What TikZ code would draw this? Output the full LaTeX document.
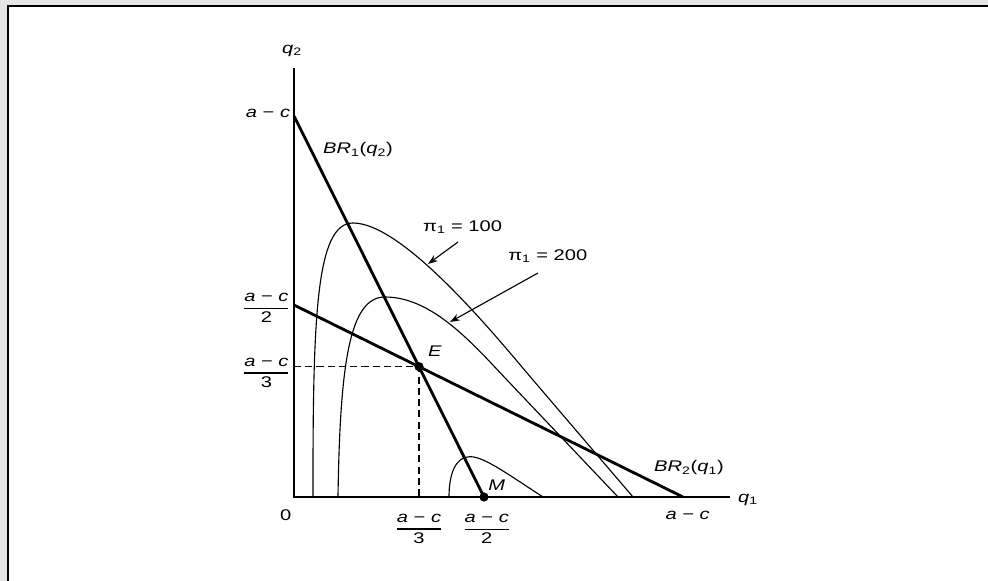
\documentclass[tikz,border=0pt]{standalone}
\usepackage{amsmath}
\usepackage{fontspec}
\setmainfont{Liberation Sans}[FakeStretch=1.3]
\usetikzlibrary{arrows.meta}
\definecolor{fondgris}{HTML}{E5E5E5}
\newcommand{\ac}{\textit{a} − \textit{c}}
\newcommand{\fracac}[1]{\(\genfrac{}{}{0.8pt}{0}{\mbox{\ac}}{\mbox{#1}}\)}

\begin{document}
\begin{tikzpicture}[
    font=\fontsize{11}{13}\selectfont,
    axe/.style={draw=black, line width=1.1pt},
    reponse/.style={draw=black, line width=2pt},
    iso/.style={draw=black, line width=0.8pt},
    guide/.style={draw=black, line width=0.8pt, dash pattern=on 5pt off 3pt},
    fleche/.style={-{Stealth[length=7pt,width=5pt]}, draw=black, line width=0.8pt},
    point/.style={circle, fill=black, inner sep=0pt, minimum size=0.23cm},
    etiq/.style={inner sep=1pt}
  ]
    \useasboundingbox (-7.35,-2.1) rectangle (17.35,12.425);
    % fond et cadre
    \fill[fondgris] (-7.35,-2.1) rectangle (17.35,12.425);
    \fill[white] (-7.15,-2.1) rectangle (17.35,12.275);
    \draw[line width=1.8pt] (-7.15,-2.1) -- (-7.15,12.275) -- (17.35,12.275);

    \coordinate (O)    at (0,0);
    \coordinate (ytop) at (0,10.725);
    \coordinate (xend) at (10.9,0);
    \coordinate (A1)   at (0,9.525);
    \coordinate (A2)   at (0,4.8);
    \coordinate (M)    at (4.75,0);
    \coordinate (B2)   at (9.725,0);
    \coordinate (E)    at (intersection of A1--M and A2--B2);

    % courbes d'isoprofit
    \draw[iso] (0.475,0) .. controls (0.47,4.5) and (0.55,6.85) .. (1.475,6.85)
      .. controls (2.775,6.85) and (5.195,3.837) .. (5.975,2.925) -- (8.475,0);
    \draw[iso] (1.1,0) .. controls (1.15,3.4) and (1.4,5.0) .. (2.275,5.0)
      .. controls (3.475,5.0) and (4.5,3.795) .. (5.325,2.925) -- (8.1,0);
    \draw[iso] (3.875,0) .. controls (3.875,0.6) and (4.05,1.008) .. (4.4,1.008)
      .. controls (4.75,1.008) and (5.3,0.6) .. (6.225,0);

    \draw[axe] (ytop) -- (O) -- (xend);
    \draw[guide] (E -| O) -- (E) -- (E |- O);
    \draw[reponse] (A1) -- (M);
    \draw[reponse] (A2) -- (B2);

    \node[point] (ptE) at (E) {};
    \node[point] (ptM) at (M) {};

    \node[etiq] (q2)   at (-0.05,11.15) {\textit{q}\textsubscript{2}};
    \node[etiq] (q1)   at (11.35,-0.075) {\textit{q}\textsubscript{1}};
    \node[etiq] (zero) at (-0.205,-0.465) {0};
    \node[etiq] (yac)  at (-0.65,9.59) {\ac};
    \node[etiq] (y2)   at (-0.69,4.725) {\fracac{2}};
    \node[etiq] (y3)   at (-0.69,3.1) {\fracac{3}};
    \node[etiq] (x3)   at (3.125,-0.8) {\fracac{3}};
    \node[etiq] (x2)   at (4.82,-0.8) {\fracac{2}};
    \node[etiq] (xac)  at (9.84,-0.47) {\ac};
    \node[etiq] (br1)  at (1.6,8.68) {\textit{BR}\textsubscript{1}(\textit{q}\textsubscript{2})};
    \node[etiq] (br2)  at (9.875,0.725) {\textit{BR}\textsubscript{2}(\textit{q}\textsubscript{1})};
    \node[etiq] (labE) at (3.525,3.65) {\textit{E}};
    \node[etiq] (labM) at (5.07,0.3) {\textit{M}};
    \node[etiq] (pi100) at (4.215,6.75) {π\textsubscript{1} = 100};
    \node[etiq] (pi200) at (6.345,6.025) {π\textsubscript{1} = 200};

    \coordinate (t100) at (4.1,6.375);
    \coordinate (h100) at (3.35,5.825);
    \coordinate (t200) at (6.1,5.6);
    \coordinate (h200) at (3.9,4.375);
    \draw[fleche] (t100) -- (h100);
    \draw[fleche] (t200) -- (h200);
  \end{tikzpicture}
\end{document}
